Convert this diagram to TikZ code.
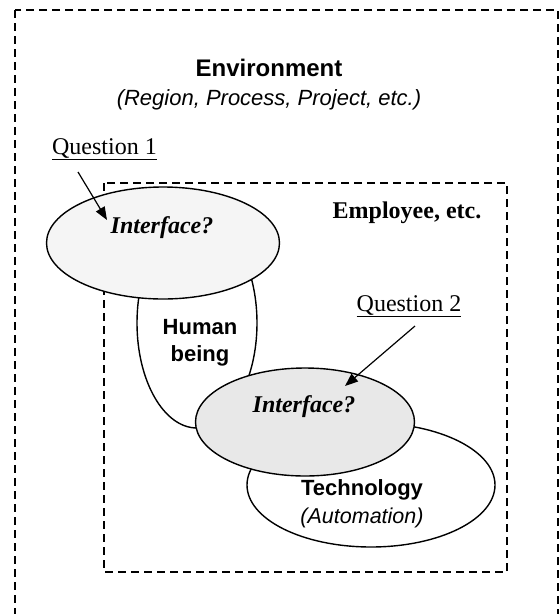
\documentclass[tikz,border=0pt]{standalone}
\usepackage{fontspec}
\setmainfont{Liberation Serif}
\setsansfont{Liberation Sans}
\usetikzlibrary{shapes.geometric,arrows.meta}
\tikzset{
  box/.style={draw, line width=1.4pt, dash pattern=on 8pt off 5pt},
  blob/.style={draw, line width=1.4pt, ellipse, inner sep=0pt},
  ptr/.style={line width=1.2pt, -{Triangle[length=13pt,width=10pt]}},
  sanslab/.style={font=\sffamily\bfseries\fontsize{22}{27}\selectfont, align=center},
  seriflab/.style={font=\fontsize{24}{28}\selectfont},
}
\begin{document}
\begin{tikzpicture}[x=1pt,y=-1pt]
\useasboundingbox (0,0) rectangle (560,614);
\clip (0,0) rectangle (560,614);
\fill[white] (0,0) rectangle (560,614);
% outer environment box
\draw[box] (15,10) rectangle (558,640);
\node[font=\sffamily\bfseries\fontsize{24}{28}\selectfont] (env) at (269,68) {Environment};
\node[font=\sffamily\itshape\fontsize{22}{26}\selectfont] (envsub) at (269,100) {(Region, Process, Project, etc.)};
% inner employee box
\draw[box] (104,183) rectangle (507,572);
\node[font=\bfseries\fontsize{24}{28}\selectfont] (emp) at (407,213) {Employee, etc.};
% human being
\node[blob, fill=white, minimum width=120pt, minimum height=210pt] (human) at (197,323) {};
\node[sanslab] (humantxt) at (200,343) {Human\\being};
% interface 1
\node[blob, fill={rgb,255:red,245;green,245;blue,245}, minimum width=233pt, minimum height=112pt] (if1) at (163,243) {};
\node[font=\bfseries\itshape\fontsize{24}{28}\selectfont] (if1txt) at (162,228) {Interface?};
% technology
\node[blob, fill=white, minimum width=248pt, minimum height=124pt] (tech) at (371,485) {};
\node[sanslab] (techtxt) at (362,490) {Technology};
\node[font=\sffamily\itshape\fontsize{21.5}{26}\selectfont] (techsub) at (362,518) {(Automation)};
% interface 2
\node[blob, fill={rgb,255:red,232;green,232;blue,232}, minimum width=219pt, minimum height=108pt] (if2) at (305,422) {};
\node[font=\bfseries\itshape\fontsize{24}{28}\selectfont] (if2txt) at (304,407) {Interface?};
% questions
\node[seriflab] (q1) at (104.5,149) {\underline{Question 1}};
\node[seriflab] (q2) at (409,306) {\underline{Question 2}};
\coordinate (q1s) at (78,172);
\coordinate (q1e) at (107,220);
\coordinate (q2s) at (415,326);
\coordinate (q2e) at (345,386);
\draw[ptr] (q1s) -- (q1e);
\draw[ptr] (q2s) -- (q2e);
\end{tikzpicture}
\end{document}
